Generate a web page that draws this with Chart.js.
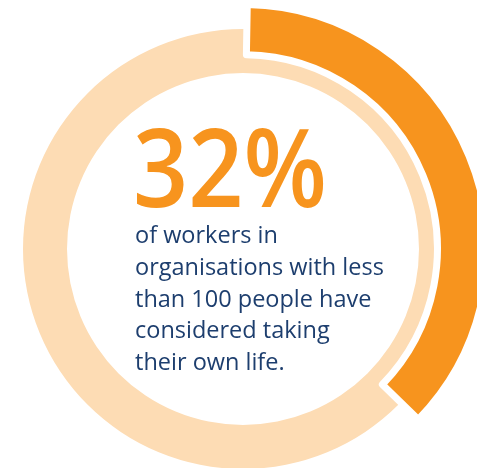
<!DOCTYPE html>
<html>
<head>
<meta charset="utf-8">
<script src="https://cdn.jsdelivr.net/npm/chart.js@4.4.1/dist/chart.umd.min.js"></script>
<style>
  body { margin: 0; background: #ffffff; }
  #wrap { position: relative; width: 477px; height: 468px; overflow: hidden; }
  #wrap canvas { position: absolute; left: 0; top: 0; }
</style>
</head>
<body>
<div id="wrap">
  <canvas id="baseRing" width="477" height="468"></canvas>
  <canvas id="shareRing" width="477" height="468"></canvas>
</div>
<script>
// values
var ringLabels = ['Considered taking their own life', 'Other workers'];
var arcShare = [37, 63];      // orange arc as drawn (about 134 degrees)
var baseValues = [100];       // full pale ring underneath
var headline = '32%';
var bodyLines = [
    'of workers in',
    'organisations with less',
    'than 100 people have',
    'considered taking',
    'their own life.'
];

var orange = '#f7941e';
var peach = '#fddcb4';
var navy = '#1d3e6e';

// both charts share the same centre
var pad = { left: 9, right: 0, top: 30, bottom: 0 };

new Chart(document.getElementById('baseRing'), {
    type: 'doughnut',
    data: {
        labels: ['All workers'],
        datasets: [{
            data: baseValues,
            backgroundColor: [peach],
            borderWidth: 0
        }]
    },
    options: {
        responsive: false,
        animation: false,
        radius: 220,
        cutout: '80%',
        layout: { padding: pad },
        plugins: { legend: { display: false }, tooltip: { enabled: false } }
    }
});

var textPlugin = {
    id: 'centreText',
    afterDraw: function(chart) {
        var ctx = chart.ctx;
        ctx.save();
        ctx.textAlign = 'left';
        ctx.textBaseline = 'alphabetic';
        ctx.fillStyle = orange;
        ctx.font = '600 108px "Open Sans"';
        // squeeze the big number to the width it has in the picture
        var w = ctx.measureText(headline).width;
        ctx.save();
        ctx.translate(133, 207);
        ctx.scale(194 / w, 1);
        ctx.fillText(headline, 0, 0);
        ctx.restore();

        ctx.fillStyle = navy;
        ctx.font = '500 23.5px "Open Sans"';
        for (var i = 0; i < bodyLines.length; i++) {
            ctx.fillText(bodyLines[i], 135, 243 + i * 31.75);
        }
        ctx.restore();
    }
};

new Chart(document.getElementById('shareRing'), {
    type: 'doughnut',
    data: {
        labels: ringLabels,
        datasets: [{
            data: arcShare,
            backgroundColor: [orange, 'rgba(0,0,0,0)'],
            borderColor: ['#ffffff', 'rgba(0,0,0,0)'],
            borderWidth: [7, 0],
            borderJoinStyle: 'round',
            rotation: 1,
            clip: false
        }]
    },
    options: {
        responsive: false,
        animation: false,
        radius: 244.5,
        cutout: '79.5%',
        layout: { padding: pad },
        plugins: { legend: { display: false }, tooltip: { enabled: false } }
    },
    plugins: [textPlugin]
});
</script>
</body>
</html>
